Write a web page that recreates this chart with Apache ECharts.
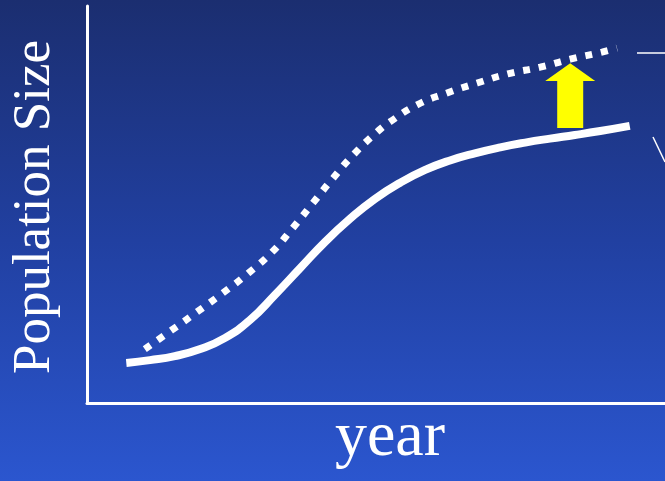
<!DOCTYPE html>
<html>
<head>
<meta charset="utf-8">
<script src="https://cdn.jsdelivr.net/npm/echarts@6/dist/echarts.min.js"></script>
<style>
  html, body { margin: 0; padding: 0; }
  #chart { width: 665px; height: 481px; }
</style>
</head>
<body>
<div id="chart"></div>
<script>
// Logistic growth: present population (solid) and raised carrying capacity (dotted)
const yearCurrent = [6.8, 10.9, 15.2, 19.6, 23.9, 28.2, 32.5, 36.9, 41.2, 45.5, 49.8, 54.2, 58.5, 62.8, 67.1, 71.5, 75.8, 80.1, 84.4, 88.8, 93.9];
const sizeCurrent = [10.1, 10.8, 11.8, 13.6, 16.4, 20.9, 27.2, 34.0, 40.6, 46.4, 51.4, 55.5, 58.7, 61.1, 62.9, 64.4, 65.6, 66.6, 67.5, 68.5, 69.8];

const yearRaised = [10.0, 14.7, 19.0, 23.5, 27.9, 32.0, 35.6, 39.1, 42.6, 46.2, 50.2, 52.4, 57.1, 62.3, 67.5, 72.8, 78.4, 83.6, 89.1, 91.7];
const sizeRaised = [13.6, 18.4, 22.9, 27.7, 32.7, 38.0, 44.1, 50.4, 56.7, 62.7, 68.3, 70.8, 75.1, 78.1, 80.6, 82.9, 84.6, 86.6, 88.4, 89.4];

// Upward shift arrow: [year, base, head start, tip]
const shiftArrow = [[83.6, 69.3, 81.1, 85.6]];

const xTitle = 'year';
const yTitle = 'Population Size';

const pair = (xs, ys) => xs.map((x, i) => [x, ys[i]]);

const chart = echarts.init(document.getElementById('chart'));

const axisBase = {
  type: 'value',
  min: 0,
  max: 100,
  axisLine: { show: true, lineStyle: { color: '#ffffff', width: 3 } },
  axisTick: { show: false },
  axisLabel: { show: false },
  splitLine: { show: false }
};

chart.setOption({
  animation: false,
  backgroundColor: {
    type: 'linear', x: 0, y: 0, x2: 0, y2: 1,
    colorStops: [
      { offset: 0, color: '#1b2e70' },
      { offset: 0.5, color: '#2140a1' },
      { offset: 1, color: '#2b56cf' }
    ]
  },
  grid: { left: 87, right: 0, top: 6, bottom: 78 },
  xAxis: Object.assign({}, axisBase),
  yAxis: Object.assign({}, axisBase),
  series: [
    {
      type: 'line',
      data: pair(yearCurrent, sizeCurrent),
      smooth: 0.5,
      showSymbol: false,
      lineStyle: { color: '#ffffff', width: 8, cap: 'butt' },
      z: 3
    },
    {
      type: 'line',
      data: pair(yearRaised, sizeRaised),
      smooth: 0.5,
      showSymbol: false,
      lineStyle: { color: '#ffffff', width: 7, type: [7, 9], cap: 'butt' },
      z: 3
    },
    {
      type: 'custom',
      data: shiftArrow,
      z: 4,
      renderItem: function (params, api) {
        const base = api.coord([api.value(0), api.value(1)]);
        const neck = api.coord([api.value(0), api.value(2)]);
        const tip = api.coord([api.value(0), api.value(3)]);
        const cx = base[0];
        const shaft = 13, head = 25;
        return {
          type: 'polygon',
          shape: {
            points: [
              [cx - shaft, base[1]],
              [cx - shaft, neck[1]],
              [cx - head, neck[1]],
              [cx, tip[1]],
              [cx + head, neck[1]],
              [cx + shaft, neck[1]],
              [cx + shaft, base[1]]
            ]
          },
          style: { fill: '#ffff00' }
        };
      }
    }
  ],
  graphic: [
    {
      type: 'text',
      x: 390, y: 470,
      style: {
        text: xTitle,
        font: '64px "Liberation Serif", "Times New Roman", serif',
        fill: '#ffffff',
        align: 'center',
        verticalAlign: 'bottom'
      }
    },
    {
      type: 'text',
      x: 62, y: 207,
      rotation: Math.PI / 2,
      style: {
        text: yTitle,
        font: '53px "Liberation Serif", "Times New Roman", serif',
        fill: '#ffffff',
        align: 'center',
        verticalAlign: 'bottom'
      }
    },
    // leader lines running off toward side labels
    {
      type: 'line',
      shape: { x1: 637, y1: 53, x2: 665, y2: 53 },
      style: { stroke: '#ffffff', lineWidth: 1.5 }
    },
    {
      type: 'line',
      shape: { x1: 653, y1: 137, x2: 665, y2: 162 },
      style: { stroke: '#ffffff', lineWidth: 1.5 }
    }
  ]
});
</script>
</body>
</html>
